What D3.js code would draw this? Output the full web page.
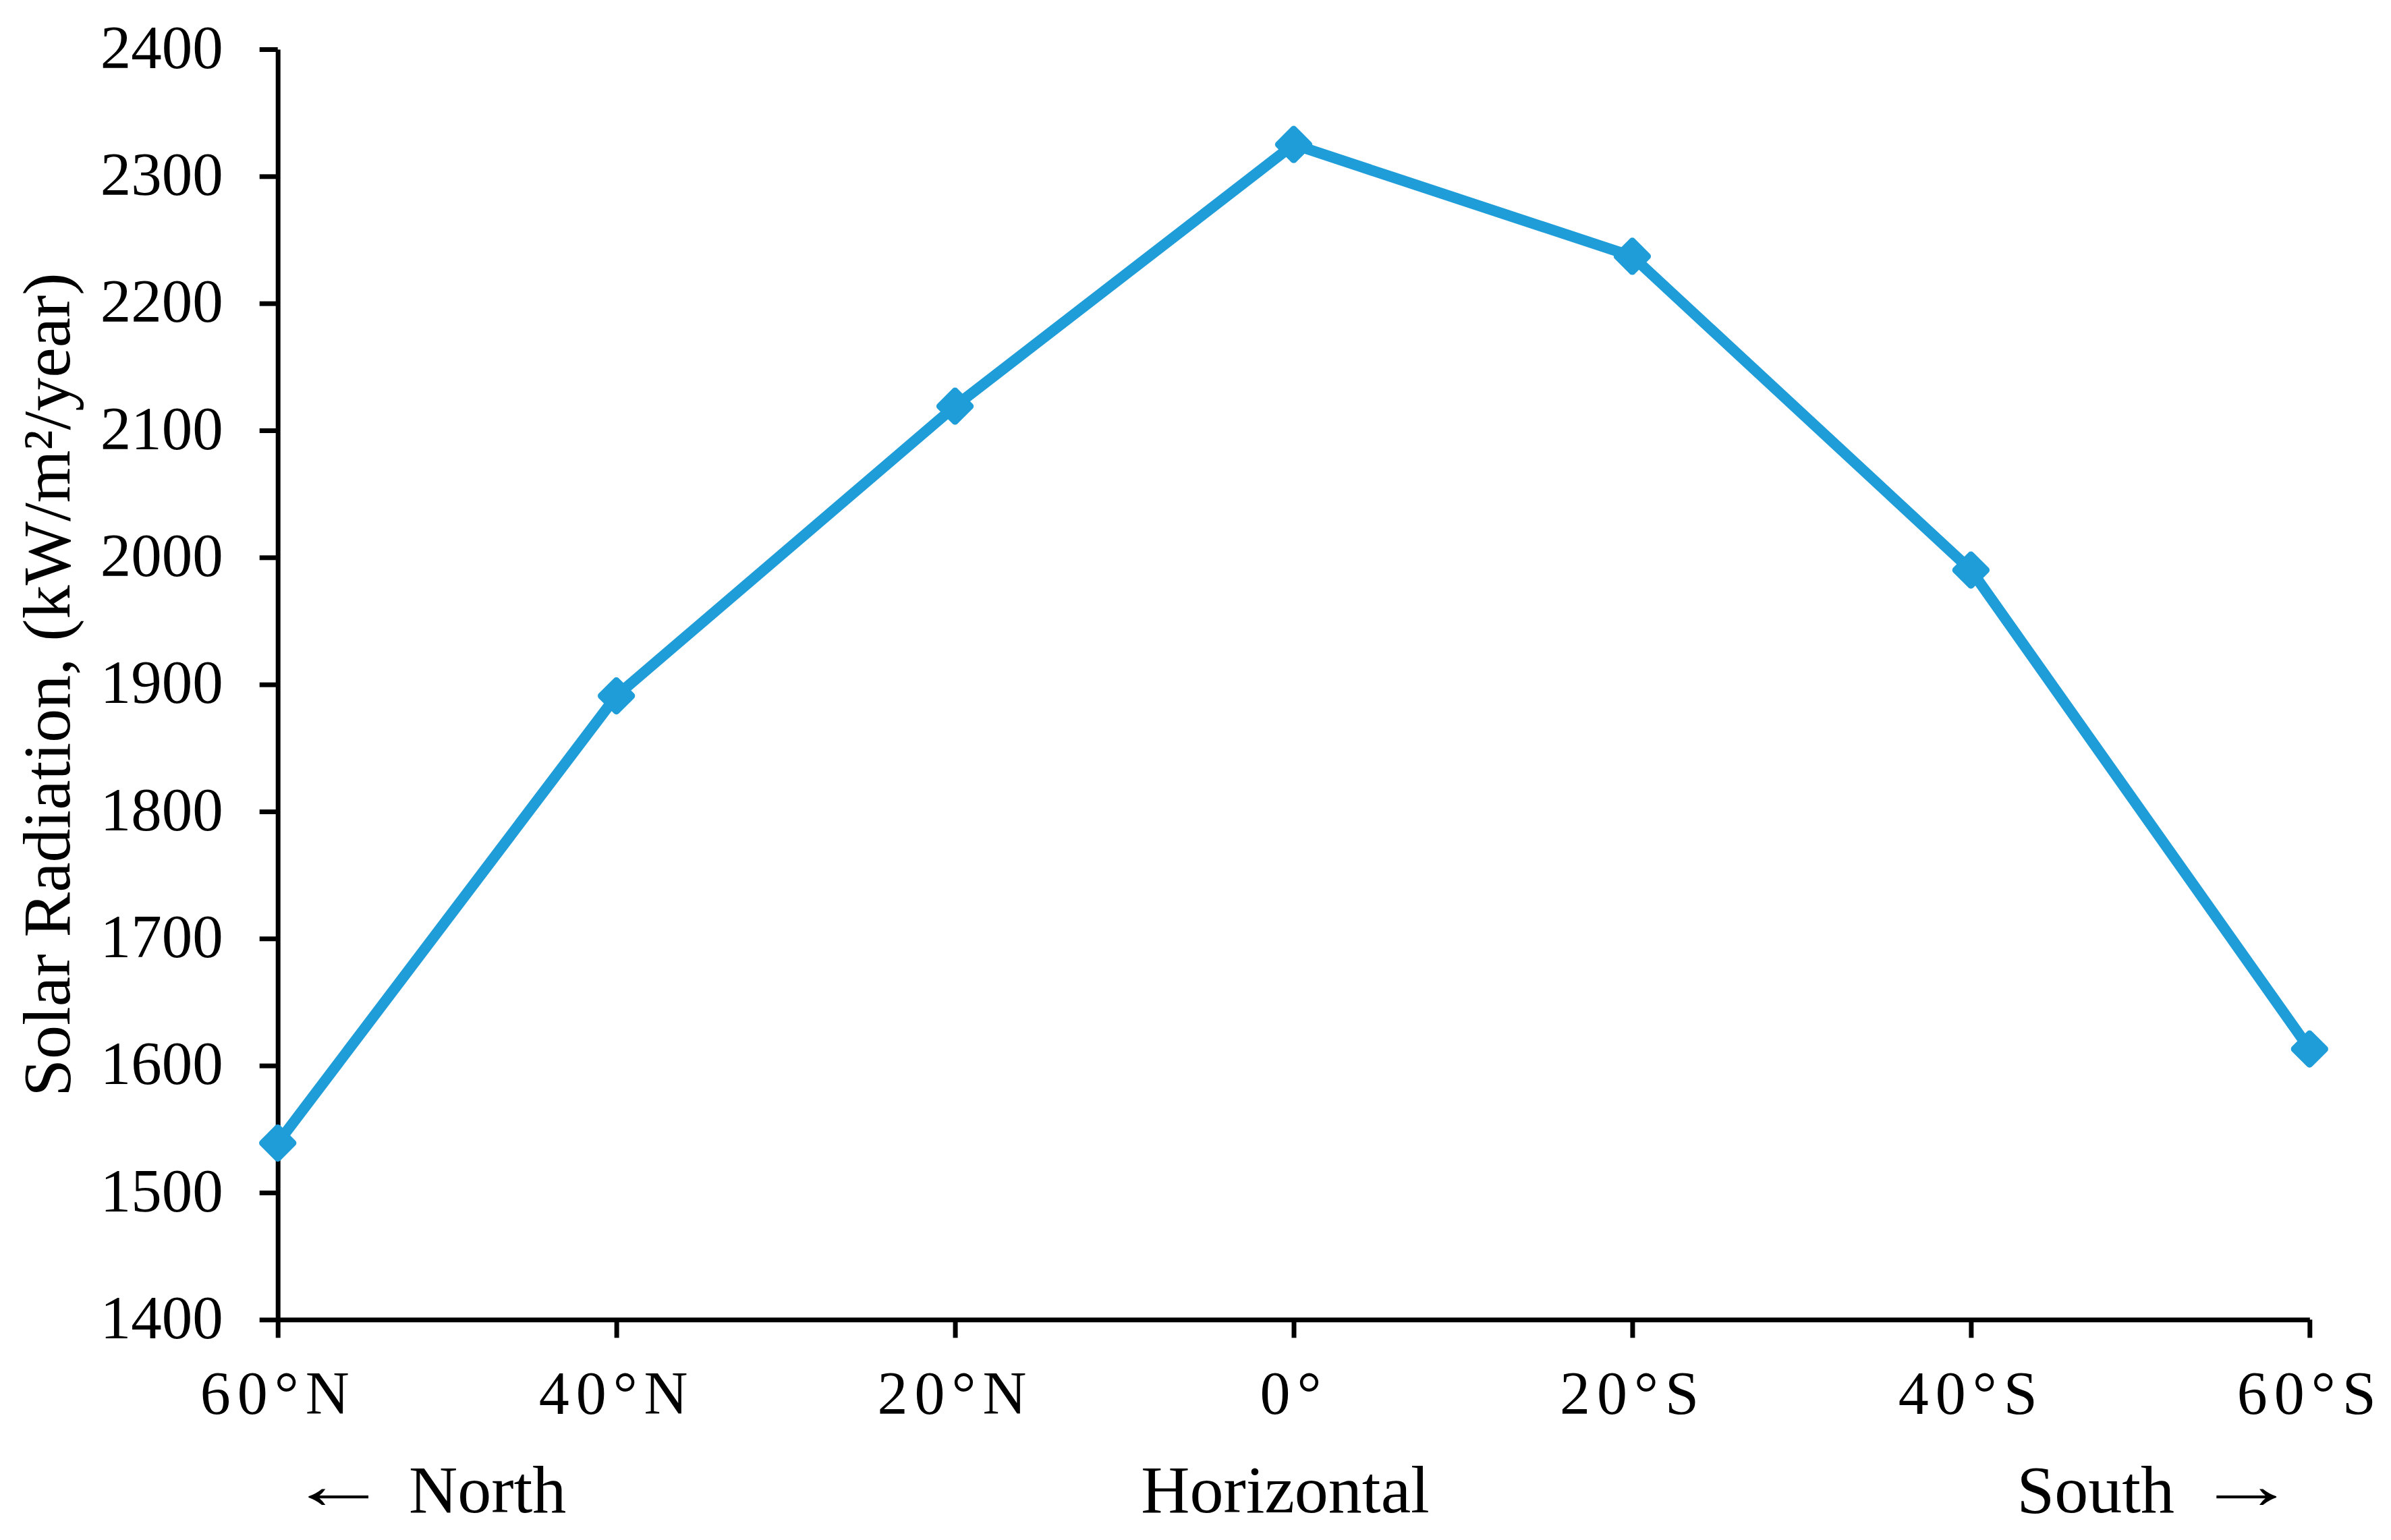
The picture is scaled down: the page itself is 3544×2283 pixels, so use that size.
<!DOCTYPE html>
<html>
<head>
<meta charset="utf-8">
<script src="https://cdn.jsdelivr.net/npm/d3@7"></script>
<style>
  html, body { margin: 0; padding: 0; background: #fff; }
  svg { display: block; }
  text { font-family: "Liberation Serif", "Times New Roman", serif; fill: #000; }
</style>
</head>
<body>
<svg id="chart" width="3544" height="2283"></svg>
<script>
const categories = ["60°N", "40°N", "20°N", "0°", "20°S", "40°S", "60°S"];
const radiation = [1539, 1891, 2119, 2325, 2237, 1990, 1613];
const yTicks = [1400, 1500, 1600, 1700, 1800, 1900, 2000, 2100, 2200, 2300, 2400];
const directionLabels = ["North", "Horizontal", "South"];
const arrows = ["←", "→"];
const yTitle = "Solar Radiation, (kW/m²/year)";

const color = "#1f9dd9";
const svg = d3.select("#chart");

const x = d3.scalePoint().domain(categories).range([411.7, 3423.3]);
const y = d3.scaleLinear().domain([1400, 2400]).range([1956.3, 73]);

// Y axis
const yAxis = svg.append("g").attr("transform", "translate(411.7,0)")
  .call(d3.axisLeft(y).tickValues(yTicks).tickSize(27).tickSizeOuter(0).tickPadding(54).tickFormat(d3.format("d")));
yAxis.select(".domain").attr("stroke", "#000").attr("stroke-width", 7);
yAxis.selectAll(".tick line").attr("stroke", "#000").attr("stroke-width", 7);
yAxis.selectAll(".tick text").attr("font-size", 91).attr("font-family", "Liberation Serif").attr("dy", "0.3em");

// X axis
const xAxis = svg.append("g").attr("transform", "translate(0,1956.3)")
  .call(d3.axisBottom(x).tickSize(27).tickSizeOuter(0));
xAxis.select(".domain").attr("stroke", "#000").attr("stroke-width", 7);
xAxis.selectAll(".tick line").attr("stroke", "#000").attr("stroke-width", 7);
xAxis.selectAll(".tick text").attr("font-size", 90).attr("font-family", "Liberation Serif")
  .attr("y", 140).attr("dy", 0).style("letter-spacing", "10px");

// Line
const line = d3.line().x((d, i) => x(categories[i])).y(d => y(d));
svg.append("path").datum(radiation)
  .attr("d", line).attr("fill", "none").attr("stroke", color)
  .attr("stroke-width", 16).attr("stroke-linejoin", "miter");

// Markers (diamonds)
svg.append("g").selectAll("rect").data(radiation).join("rect")
  .attr("x", -21).attr("y", -21).attr("width", 42).attr("height", 42)
  .attr("rx", 5).attr("ry", 5)
  .attr("fill", color)
  .attr("transform", (d, i) => `translate(${x(categories[i])},${y(d)}) rotate(45)`);

// Y title
svg.append("text")
  .attr("transform", "translate(103,1015) rotate(-90)")
  .attr("text-anchor", "middle").attr("font-size", 100)
  .text(yTitle);

// Direction labels
svg.append("text").attr("x", 606).attr("y", 2242).attr("font-size", 100)
  .attr("text-anchor", "start").text(directionLabels[0]);
svg.append("text").attr("x", 1905).attr("y", 2242).attr("font-size", 100)
  .attr("text-anchor", "middle").text(directionLabels[1]);
svg.append("text").attr("x", 3223).attr("y", 2242).attr("font-size", 100)
  .attr("text-anchor", "end").text(directionLabels[2]);

// Arrows (stretched horizontally)
svg.append("text").attr("transform", "translate(427,2236) scale(1.5,1)")
  .attr("font-size", 100).attr("text-anchor", "start").text(arrows[0]);
svg.append("text").attr("transform", "translate(3405,2236) scale(1.5,1)")
  .attr("font-size", 100).attr("text-anchor", "end").text(arrows[1]);
</script>
</body>
</html>
